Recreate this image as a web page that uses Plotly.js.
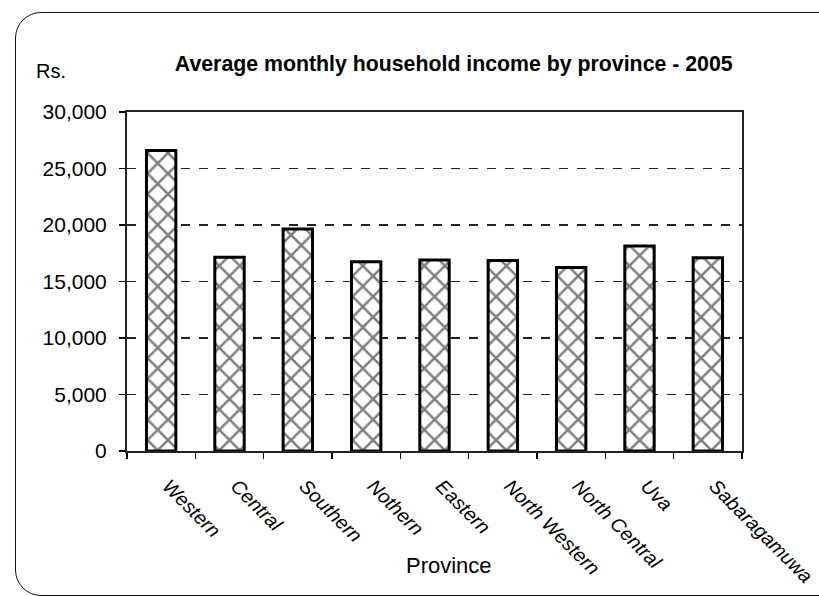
<!DOCTYPE html>
<html>
<head>
<meta charset="utf-8">
<script src="https://cdn.plot.ly/plotly-3.0.1.min.js"></script>
<style>
  html, body { margin: 0; padding: 0; background: #fff; }
  #wrap { position: relative; width: 819px; height: 596px; overflow: hidden; }
  #chart { position: absolute; left: 0; top: 0; width: 819px; height: 596px; }
  #frame { position: absolute; left: 15px; top: 12px; width: 900px; height: 582px;
           border: 1.5px solid #111; border-radius: 26px; pointer-events: none; }
</style>
</head>
<body>
<div id="wrap">
  <div id="chart"></div>
  <div id="frame"></div>
</div>
<script>
const provinces = ["Western", "Central", "Southern", "Nothern", "Eastern",
                   "North Western", "North Central", "Uva", "Sabaragamuwa"];
const income = [26600, 17150, 19650, 16750, 16900, 16850, 16250, 18150, 17100];
const yTicks = [0, 5000, 10000, 15000, 20000, 25000, 30000];

const trace = {
  type: "bar",
  x: provinces,
  y: income,
  marker: {
    color: "#ffffff",
    line: { color: "#000000", width: 3 },
    pattern: { shape: "x", fgcolor: "#000000", bgcolor: "#ffffff", size: 14.5, solidity: 0.32, fillmode: "overlay" }
  },
  hoverinfo: "x+y"
};

const layout = {
  width: 819, height: 596,
  margin: { l: 127, r: 77, t: 112, b: 145 },
  paper_bgcolor: "rgba(0,0,0,0)",
  plot_bgcolor: "#ffffff",
  showlegend: false,
  bargap: 0.57,
  font: { family: "Liberation Sans, Arial, sans-serif", color: "#000" },
  title: {
    text: "<b>Average monthly household income by province - 2005</b>",
    font: { size: 21.3, family: "Liberation Sans, Arial, sans-serif", color: "#000" },
    xref: "container", x: 0.554, xanchor: "center",
    yref: "container", y: 0.893, yanchor: "middle"
  },
  xaxis: {
    type: "category",
    tickangle: 45,
    tickfont: { size: 19.5, family: "Liberation Sans, Arial, sans-serif", style: "italic" },
    ticks: "outside", ticklen: 6, tickwidth: 1.5, tickcolor: "#000",
    tickson: "boundaries",
    ticklabelstandoff: 14,
    ticklabelshift: 7,
    showline: true, linecolor: "#222", linewidth: 2, mirror: true,
    showgrid: false, zeroline: false
  },
  yaxis: {
    range: [0, 30000],
    tickvals: yTicks,
    tickformat: ",d",
    tickfont: { size: 21 },
    ticks: "outside", ticklen: 6, tickwidth: 1.5, tickcolor: "#000",
    ticklabelstandoff: 8,
    showline: true, linecolor: "#222", linewidth: 2, mirror: true,
    showgrid: true, gridcolor: "#222", gridwidth: 1.5, griddash: "dash",
    zeroline: false
  },
  annotations: [
    { text: "Rs.", xref: "paper", yref: "paper", x: -0.151, y: 1.12,
      xanchor: "left", yanchor: "middle", showarrow: false,
      font: { size: 20, color: "#000" } },
    { text: "Province", xref: "paper", yref: "paper", x: 0.524, y: -0.339,
      xanchor: "center", yanchor: "middle", showarrow: false,
      font: { size: 22, color: "#000" } }
  ]
};

Plotly.newPlot("chart", [trace], layout, { displayModeBar: false, staticPlot: true });
</script>
</body>
</html>
